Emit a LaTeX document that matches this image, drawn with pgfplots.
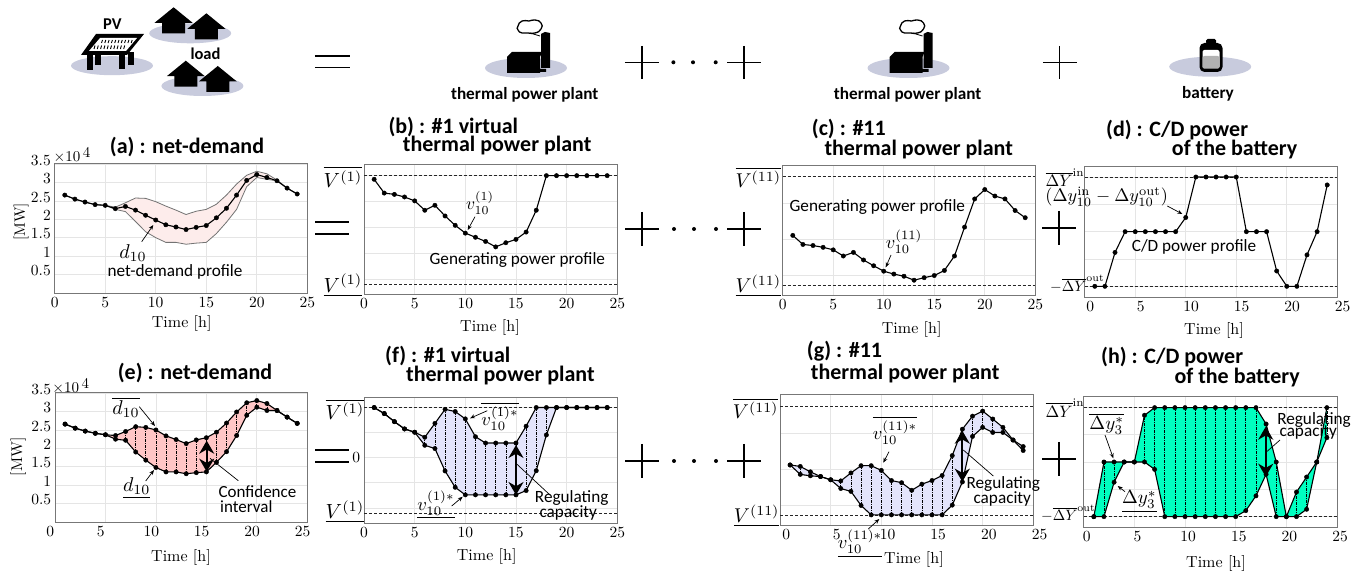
\documentclass[border=0pt]{standalone}
\usepackage{fontspec}
\usepackage{pgfplots}
\usepackage{pgfplotstable}
\pgfplotsset{compat=1.18}
\usetikzlibrary{arrows.meta}
\newfontfamily\cari{Carlito}
\definecolor{ico}{HTML}{C8CBDD}
\definecolor{fa}{HTML}{FDECEB}
\definecolor{fe}{HTML}{FFC6C6}
\definecolor{ff}{HTML}{E3E4FB}
\definecolor{fh}{HTML}{00FFC0}
\definecolor{frm}{HTML}{777777}
\newcommand{\fs}[1]{\fontsize{#1}{#1}\selectfont}

\pgfplotstableread{
x m hi lo
1 2.66 2.66 2.66
2 2.55 2.55 2.55
3 2.47 2.47 2.47
4 2.40 2.40 2.40
5 2.38 2.38 2.38
6 2.29 2.33 2.27
7 2.35 2.45 2.21
8 2.25 2.58 1.94
9 2.11 2.57 1.66
10 1.98 2.48 1.50
11 1.85 2.36 1.37
12 1.79 2.25 1.37
13 1.72 2.13 1.32
14 1.78 2.22 1.35
15 1.83 2.27 1.37
16 2.04 2.41 1.61
17 2.30 2.66 1.92
18 2.66 2.96 2.27
19 3.06 3.20 2.89
20 3.22 3.31 3.14
21 3.14 3.24 3.09
22 3.05 3.07 3.05
23 2.85 2.85 2.85
24 2.69 2.69 2.69
}\tblA
\pgfplotstableread{
x m
1 1.86
2 1.33
3 1.28
4 1.18
5 1.03
6 0.67
7 0.86
8 0.45
9 0.09
10 -0.21
11 -0.37
12 -0.53
13 -0.74
14 -0.58
15 -0.45
16 -0.17
17 0.67
18 2.00
19 2.00
20 2.00
21 2.00
22 2.00
23 2.00
24 2.00
}\tblB
\pgfplotstableread{
x m
1 0.11
2 -0.14
3 -0.17
4 -0.22
5 -0.29
6 -0.46
7 -0.36
8 -0.57
9 -0.73
10 -0.88
11 -0.96
12 -1.02
13 -1.13
14 -1.06
15 -1.00
16 -0.86
17 -0.46
18 0.34
19 1.12
20 1.38
21 1.20
22 1.12
23 0.80
24 0.60
}\tblC
\pgfplotstableread{
x m
1 -2
2 -2
3 -0.76
4 0
5 0
6 0
7 0
8 0
9 0
10 0.52
11 2
12 2
13 2
14 2
15 2
16 0
17 0
18 0
19 -1.44
20 -2
21 -2
22 -0.85
23 0
24 1.71
}\tblD
\pgfplotstableread{
x hi lo
1 2.66 2.66
2 2.55 2.55
3 2.47 2.47
4 2.41 2.41
5 2.37 2.37
6 2.35 2.25
7 2.46 2.22
8 2.59 1.90
9 2.57 1.68
10 2.50 1.48
11 2.34 1.36
12 2.24 1.36
13 2.13 1.31
14 2.23 1.34
15 2.29 1.36
16 2.44 1.62
17 2.69 1.91
18 2.99 2.35
19 3.24 2.90
20 3.30 3.12
21 3.22 3.03
22 3.03 3.03
23 2.85 2.85
24 2.68 2.68
}\tblE
\pgfplotstableread{
x hi lo
1 1.99 1.99
2 1.75 1.75
3 1.43 1.43
4 1.14 1.14
5 1.01 1.01
6 0.81 0.49
7 1.36 0.36
8 1.92 -0.53
9 1.83 -1.18
10 1.54 -1.48
11 0.83 -1.48
12 0.58 -1.48
13 0.58 -1.48
14 0.58 -1.48
15 0.58 -1.48
16 1.25 -1.31
17 1.99 -0.52
18 1.99 0.90
19 1.99 1.99
20 1.99 1.99
21 1.99 1.99
22 1.99 1.99
23 1.99 1.99
24 1.99 1.99
}\tblF
\pgfplotstableread{
x hi lo
1 0.12 0.12
2 0.08 -0.14
3 -0.07 -0.18
4 -0.20 -0.20
5 -0.29 -0.29
6 -0.32 -0.53
7 -0.10 -0.61
8 0.10 -1.00
9 0.10 -1.26
10 -0.03 -1.26
11 -0.31 -1.26
12 -0.37 -1.26
13 -0.58 -1.26
14 -0.41 -1.26
15 -0.31 -1.26
16 -0.17 -1.26
17 0.38 -0.99
18 1.11 -0.35
19 1.47 0.91
20 1.61 1.16
21 1.39 1.02
22 1.16 1.02
23 0.81 0.81
24 0.63 0.52
}\tblG
\pgfplotstableread{
x hi lo
1 -2 -2
2 0 -2
3 0 -0.74
4 0 0
5 0 0
6 1.71 0
7 1.99 -0.27
8 1.99 -2
9 1.99 -2
10 1.99 -2
11 1.99 -2
12 1.99 -2
13 1.99 -2
14 1.99 -2
15 1.99 -2
16 1.99 -1.78
17 1.99 -1.24
18 1.39 -0.45
19 0 -2
20 -2 -2
21 -1.10 -2
22 -0.55 -1.73
23 0 0
24 1.99 0.89
}\tblH

\pgfplotsset{
  pan/.style={scale only axis, anchor=south west, xmin=0, xmax=25,
    xtick={0,5,10,15,20,25}, grid=major,
    grid style={draw=black!10, line width=0.7pt},
    axis line style={draw=frm, line width=1pt},
    major tick length=0pt,
    tick label style={scale=1.55},
    xticklabel style={yshift=1pt},
    yticklabel style={yshift=2.5pt, xshift=1pt}},
  lim/.style={black!85, line width=0.7pt, densely dashed, forget plot},
  mainl/.style={black, line width=1.1pt, mark=*, mark size=2.2pt, mark options={solid, fill=black, line width=0.4pt}},
  vert/.style={draw=none, mark=none, forget plot,
    error bars/.cd, y dir=plus, y explicit,
    error mark=none, error bar style={draw=black, line width=0.7pt, dash pattern=on 3pt off 1pt on 1pt off 1pt}},
}
\newcommand{\fillband}[2]{%
  \addplot[stack plots=y, draw=none, mark=none, forget plot] table[x=x,y=lo]{#1};
  \addplot[stack plots=y, draw=none, mark=none, fill=#2, forget plot] table[x=x,y expr=\thisrow{hi}-\thisrow{lo}]{#1} \closedcycle;
}
\newcommand{\band}[2]{%
  \fillband{#1}{#2}
  \addplot[vert] table[x=x,y=lo,y error expr=\thisrow{hi}-\thisrow{lo}]{#1};
  \addplot[mainl] table[x=x,y=hi]{#1};
  \addplot[mainl] table[x=x,y=lo]{#1};
}
\tikzset{
  ann/.style={-{Stealth[length=5pt,width=4pt]}, line width=0.7pt, black},
  big/.style={{Stealth[length=13pt,width=15pt]}-{Stealth[length=13pt,width=15pt]}, line width=2pt, black},
}
\newcommand{\TL}[3]{\node[anchor=west,inner sep=0pt,font=\cari\bfseries\fs{22}] at (#1,#2) {#3};}
\newcommand{\TC}[3]{\node[inner sep=0pt,font=\cari\bfseries\fs{22}] at (#1,#2) {#3};}
\newcommand{\CC}[3]{\node[inner sep=0pt,font=\cari\fs{17.2}] at (#1,#2) {#3};}
\newcommand{\MM}[4][2.0]{\node[inner sep=0pt,scale=#1] at (#2,#3) {$#4$};}
\newcommand{\RR}[3]{\node[inner sep=0pt,scale=1.6] at (#1,#2) {#3};}
\newcommand{\house}[2]{\fill[black] (#1-19,#2+15.5)--(#1,#2)--(#1+19,#2+15.5)--(#1+11.5,#2+15.5)--(#1+11.5,#2+26)--(#1-11.5,#2+26)--(#1-11.5,#2+15.5)--cycle;}
\newcommand{\plant}[1]{\begin{scope}[xshift=#1pt]
  \fill[ico] (0,68) ellipse (41 and 10);
  \fill[black] (-19,57)--(-14,52)--(16,52)--(14,57)--(14,69)--(20,69)--(20,72)--(14,72)--(14,73)--(-19,73)--cycle;
  \fill[black] (15,34)--(19,32)--(24,33)--(24,68)--(15,68)--cycle;
  \draw[black, line width=1.3pt, fill=white, smooth cycle, tension=1] plot coordinates {(-8,26)(-4,21)(3,21)(9,20)(15,23)(15,29)(9,33)(2,33)(-4,33)(-8,30)};
  \draw[black,line width=0.8pt] (4,33) -- (14,36);
\end{scope}}
\newcommand{\plusi}[1]{\draw[black,line width=1.2pt] (#1-17,62.3)--(#1+17,62.3) (#1,46)--(#1,79);}
\newcommand{\bigplus}[2]{\draw[black,line width=1.6pt] (#1-17,#2)--(#1+17,#2) (#1,#2-17)--(#1,#2+17);}
\newcommand{\bigeq}[2]{\draw[black,line width=1.8pt] (#1-17,#2-6)--(#1+17,#2-6) (#1-17,#2+6)--(#1+17,#2+6);}
\newcommand{\dt}[2]{\fill[black] (#1,#2) circle (2);}

\begin{document}
\begin{tikzpicture}
\path[use as bounding box] (0,0) rectangle (1364pt,575pt);
\fill[white] (0,0) rectangle (1364pt,575pt);

\begin{scope}[x=1pt,y=-1pt,yshift=575pt]
  % top row icons
  \fill[ico] (112,65.7) ellipse (41 and 9.5);
  \fill[ico] (190.2,33.3) ellipse (41 and 10);
  \fill[ico] (202.4,86) ellipse (41 and 10);
  \foreach \xa/\yb in {89.6/70,98.4/65,121.6/69.5,131/65}{\fill[black] (\xa-3,52) rectangle (\xa+3,\yb);}
  \fill[black] (96,34)--(144,34)--(127,55)--(81,55)--cycle;
  \fill[white] (100,38)--(137,38)--(126,51)--(89,51)--cycle;
  \foreach \i in {0,...,9}{
    \draw[black,line width=0.9pt] (102.5+\i*3.3,40)--(101.5+\i*3.3,43);
    \draw[black,line width=0.9pt] (95+\i*3.3,45.5)--(94+\i*3.3,49);}
  \house{173.6}{7.3}\house{206.4}{13.3}\house{185.8}{60.7}\house{217.8}{66}
  \node[inner sep=0pt,font=\cari\bfseries\fs{16.5}] at (112.4,24) {PV};
  \node[inner sep=0pt,font=\cari\bfseries\fs{16.5}] at (205.5,53.3) {load};
  \draw[black,line width=1.3pt] (314.8,56)--(349.8,56) (314.8,67.7)--(349.8,67.7);
  \plant{526}\plant{908.5}
  \node[inner sep=0pt,font=\cari\bfseries\fs{17.2}] at (524.7,95) {thermal power plant};
  \node[inner sep=0pt,font=\cari\bfseries\fs{17.2}] at (907.6,95) {thermal power plant};
  \plusi{641.9}\plusi{744}\plusi{1059.8}
  \dt{673.4}{62.3}\dt{693}{62.3}\dt{715.7}{62.3}
  \fill[ico] (1210.2,66.7) ellipse (41 and 10);
  \fill[black,rounded corners=1.5pt] (1206,44) rectangle (1216,39);
  \fill[black,rounded corners=5pt] (1199.5,43) rectangle (1222.5,72);
  \fill[white,rounded corners=2pt] (1202.5,50) rectangle (1219.5,68.5);
  \fill[black!30,rounded corners=2pt] (1202.5,56) rectangle (1219.5,68.5);
  \node[inner sep=0pt,font=\cari\bfseries\fs{17.2}] at (1208,94) {battery};
\end{scope}

% (a)
\begin{axis}[pan, at={(54.7pt,281.7pt)}, width=252.6pt, height=130pt,
  ymin=-0.018, ymax=3.527, ytick={0.5,1,1.5,2,2.5,3,3.5}]
  \fillband{\tblA}{fa}
  \addplot[draw=black!55, line width=0.8pt] table[x=x,y=hi]{\tblA};
  \addplot[draw=black!55, line width=0.8pt] table[x=x,y=lo]{\tblA};
  \addplot[mainl] table[x=x,y=m]{\tblA};
\end{axis}
% (b)
\begin{axis}[pan, at={(364pt,280pt)}, width=253.3pt, height=130pt,
  ymin=-2.59, ymax=2.41, ytick={-2,-1,0,1,2}, yticklabels={}]
  \addplot[lim] coordinates {(0,2)(25,2)};
  \addplot[lim] coordinates {(0,-2.18)(25,-2.18)};
  \addplot[mainl] table[x=x,y=m]{\tblB};
\end{axis}
% (c)
\begin{axis}[pan, at={(782.7pt,279pt)}, width=252.6pt, height=130.3pt,
  ymin=-1.567, ymax=2.04, ytick={-1,0,1}, yticklabels={}]
  \addplot[lim] coordinates {(0,1.75)(25,1.75)};
  \addplot[lim] coordinates {(0,-1.27)(25,-1.27)};
  \addplot[mainl] table[x=x,y=m]{\tblC};
\end{axis}
% (d)
\begin{axis}[pan, at={(1084.7pt,277.7pt)}, width=252.6pt, height=130.6pt,
  ymin=-2.402, ymax=2.378, ytick={-2,-1,0,1,2}, yticklabels={},
  xticklabel style={xshift=3.5pt}]
  \addplot[lim] coordinates {(0,2)(25,2)};
  \addplot[lim] coordinates {(0,-2)(25,-2)};
  \addplot[mainl] table[x=x,y=m]{\tblD};
\end{axis}
% (e)
\begin{axis}[pan, at={(55pt,52.7pt)}, width=252.3pt, height=129.6pt,
  ymin=-0.01, ymax=3.514, ytick={0.5,1,1.5,2,2.5,3,3.5},
  xticklabel style={xshift=-3pt}]
  \band{\tblE}{fe}
\end{axis}
% (f)
\begin{axis}[pan, at={(364pt,51.7pt)}, width=253.3pt, height=126pt,
  ymin=-2.61, ymax=2.397, ytick={-2,-1,0,1,2}, yticklabels={,,0,,},
  yticklabel style={yshift=-2.5pt}]
  \addplot[lim] coordinates {(0,1.99)(25,1.99)};
  \addplot[lim] coordinates {(0,-2.21)(25,-2.21)};
  \band{\tblF}{ff}
\end{axis}
% (g)
\begin{axis}[pan, at={(780pt,49.7pt)}, width=253.3pt, height=130.3pt,
  ymin=-1.548, ymax=2.055, ytick={-1,0,1}, yticklabels={},
  xticklabel style={xshift=4pt}]
  \addplot[lim] coordinates {(0,1.75)(25,1.75)};
  \addplot[lim] coordinates {(0,-1.26)(25,-1.26)};
  \band{\tblG}{ff}
\end{axis}
% (h)
\begin{axis}[pan, at={(1083.7pt,47.7pt)}, width=253.3pt, height=130.6pt,
  ymin=-2.39, ymax=2.39, ytick={-2,-1,0,1,2}, yticklabels={},
  xticklabel style={xshift=2pt}]
  \addplot[lim] coordinates {(0,1.99)(25,1.99)};
  \addplot[lim] coordinates {(0,-2)(25,-2)};
  \band{\tblH}{fh}
\end{axis}

\begin{scope}[x=1pt,y=-1pt,yshift=575pt]
  % (a)
  \TC{187}{147}{(a) : net-demand}
  \node[inner sep=0pt,scale=1.5] at (72,155) {$\times$10\,\raisebox{3pt}{4}};
  \node[rotate=90,inner sep=0pt,scale=1.5] at (21,222) {[MW]};
  \RR{181.7}{324}{Time [h]}
  \MM{133}{253}{d_{10}}
  \draw[ann] (141.7,241.7)--(153.3,225);
  \CC{175}{272}{net-demand profile}
  \bigeq{332}{228}
  \bigplus{642}{229}
  \dt{674}{229}\dt{694}{229}\dt{716}{229}
  \bigplus{744}{229}
  \bigplus{1059}{228}
  % (b)
  \TL{388.3}{126.7}{(b) : \#1 virtual}
  \TL{402.7}{146}{thermal power plant}
  \MM[2.05]{343}{176.7}{\overline{V^{(1)}}}
  \MM[2.05]{343}{285}{\underline{V^{(1)}}}
  \MM[1.75]{480}{203}{v_{10}^{(1)}}
  \draw[ann] (475,216.7)--(467.7,230);
  \CC{517.3}{260.3}{Generating power profile}
  \RR{490}{328}{Time [h]}
  % (c)
  \TL{811.7}{129}{(c) : \#11}
  \TL{824.3}{149.3}{thermal power plant}
  \MM{758.3}{177.3}{\overline{V^{(11)}}}
  \MM{758.3}{285.7}{\underline{V^{(11)}}}
  \MM[1.83]{904}{241.7}{v_{10}^{(11)}}
  \draw[ann] (891,255)--(885.7,267.3);
  \CC{877.3}{207}{Generating power profile}
  \RR{911.7}{330}{Time [h]}
  % (d)
  \TL{1106}{130}{(d) : C/D power}
  \TL{1171.7}{149.3}{of the battery}
  \MM[1.65]{1065}{177.7}{\overline{\Delta Y}^{\mathrm{in}}}
  \MM[1.82]{1106.7}{196.7}{(\Delta y_{10}^{\mathrm{in}}-\Delta y_{10}^{\mathrm{out}})}
  \draw[ann] (1167.3,206)--(1182.3,214);
  \CC{1194}{246.7}{C/D power profile}
  \MM[1.5]{1077.3}{284}{-\overline{\Delta Y}^{\mathrm{out}}}
  \RR{1214}{331}{Time [h]}
  % (e)
  \TC{195}{372.7}{(e) : net-demand}
  \node[inner sep=0pt,scale=1.5] at (70.7,386) {$\times$10\,\raisebox{3pt}{4}};
  \node[rotate=90,inner sep=0pt,scale=1.55] at (18.3,456.7) {[MW]};
  \MM{126}{407.3}{\overline{d_{10}}}
  \draw[ann] (139.3,406.7)--(155,426);
  \MM{136.7}{488.3}{\underline{d_{10}}}
  \draw[ann] (145.7,481)--(154,470);
  \draw[big] (206.7,440.7)--(206.7,471.7);
  \draw[black,line width=0.7pt] (210,458.3)--(238.3,480.7);
  \node[anchor=west,inner sep=0pt,font=\cari\fs{17}] at (218.3,491.7) {Confidence};
  \node[anchor=west,inner sep=0pt,font=\cari\fs{17}] at (220,506.7) {interval};
  \RR{181}{558}{Time [h]}
  \bigeq{332}{456}
  \bigplus{642}{461}
  \dt{674}{461}\dt{694}{461}\dt{716}{461}
  \bigplus{744}{461}
  \bigplus{1059}{459}
  % (f)
  \TL{385}{356}{(f) : \#1 virtual}
  \TL{406}{376}{thermal power plant}
  \MM[2.05]{345}{409.3}{\overline{V^{(1)}}}
  \MM[2.05]{345}{511.7}{\underline{V^{(1)}}}
  \MM[1.85]{500}{416.7}{\overline{v_{10}^{(1)*}}}
  \draw[ann] (487.3,410.7)--(470,418.3);
  \MM[1.85]{436}{505}{\underline{v_{10}^{(1)*}}}
  \draw[ann] (451.7,506)--(462.7,496.7);
  \draw[big] (516,445)--(516,495);
  \draw[black,line width=0.7pt] (516.7,464)--(550,495);
  \CC{571.7}{498.3}{Regulating}
  \CC{568.3}{512.7}{capacity}
  \RR{486.7}{557}{Time [h]}
  % (g)
  \TL{806.7}{351.7}{(g) : \#11}
  \TL{810.7}{373.3}{thermal power plant}
  \MM{755.7}{408.3}{\overline{V^{(11)}}}
  \MM{756.7}{515.7}{\underline{V^{(11)}}}
  \MM[1.85]{895}{430.7}{\overline{v_{10}^{(11)*}}}
  \draw[ann] (889,451.7)--(883.3,462.7);
  \MM[1.85]{860}{543.3}{\underline{v_{10}^{(11)*}}}
  \draw[ann] (868.3,529)--(879.3,519);
  \draw[big] (962.3,430.7)--(962.3,481.7);
  \draw[black,line width=0.7pt] (963.3,450)--(993.3,476);
  \CC{1003.3}{484}{Regulating}
  \CC{1002.3}{499.3}{capacity}
  \RR{914}{560}{Time [h]}
  % (h)
  \TL{1101}{357.3}{(h) : C/D power}
  \TL{1174.3}{377.3}{of the battery}
  \MM[1.65]{1065}{408.3}{\overline{\Delta Y}^{\mathrm{in}}}
  \MM[1.5]{1068.3}{513.3}{-\overline{\Delta Y}^{\mathrm{out}}}
  \MM[1.9]{1106.7}{424}{\overline{\Delta y_{3}^{*}}}
  \draw[ann] (1105,435)--(1113.3,458.3);
  \MM[1.9]{1139.3}{501.7}{\underline{\Delta y_{3}^{*}}}
  \draw[ann] (1125,491.7)--(1117.7,486);
  \draw[big] (1265.7,426.7)--(1265.7,476.7);
  \draw[black,line width=0.7pt] (1280,440)--(1266,452.3);
  \CC{1314}{420}{Regulating}
  \CC{1308.3}{431.7}{capacity}
  \RR{1216}{563}{Time [h]}
\end{scope}
\end{tikzpicture}
\end{document}
